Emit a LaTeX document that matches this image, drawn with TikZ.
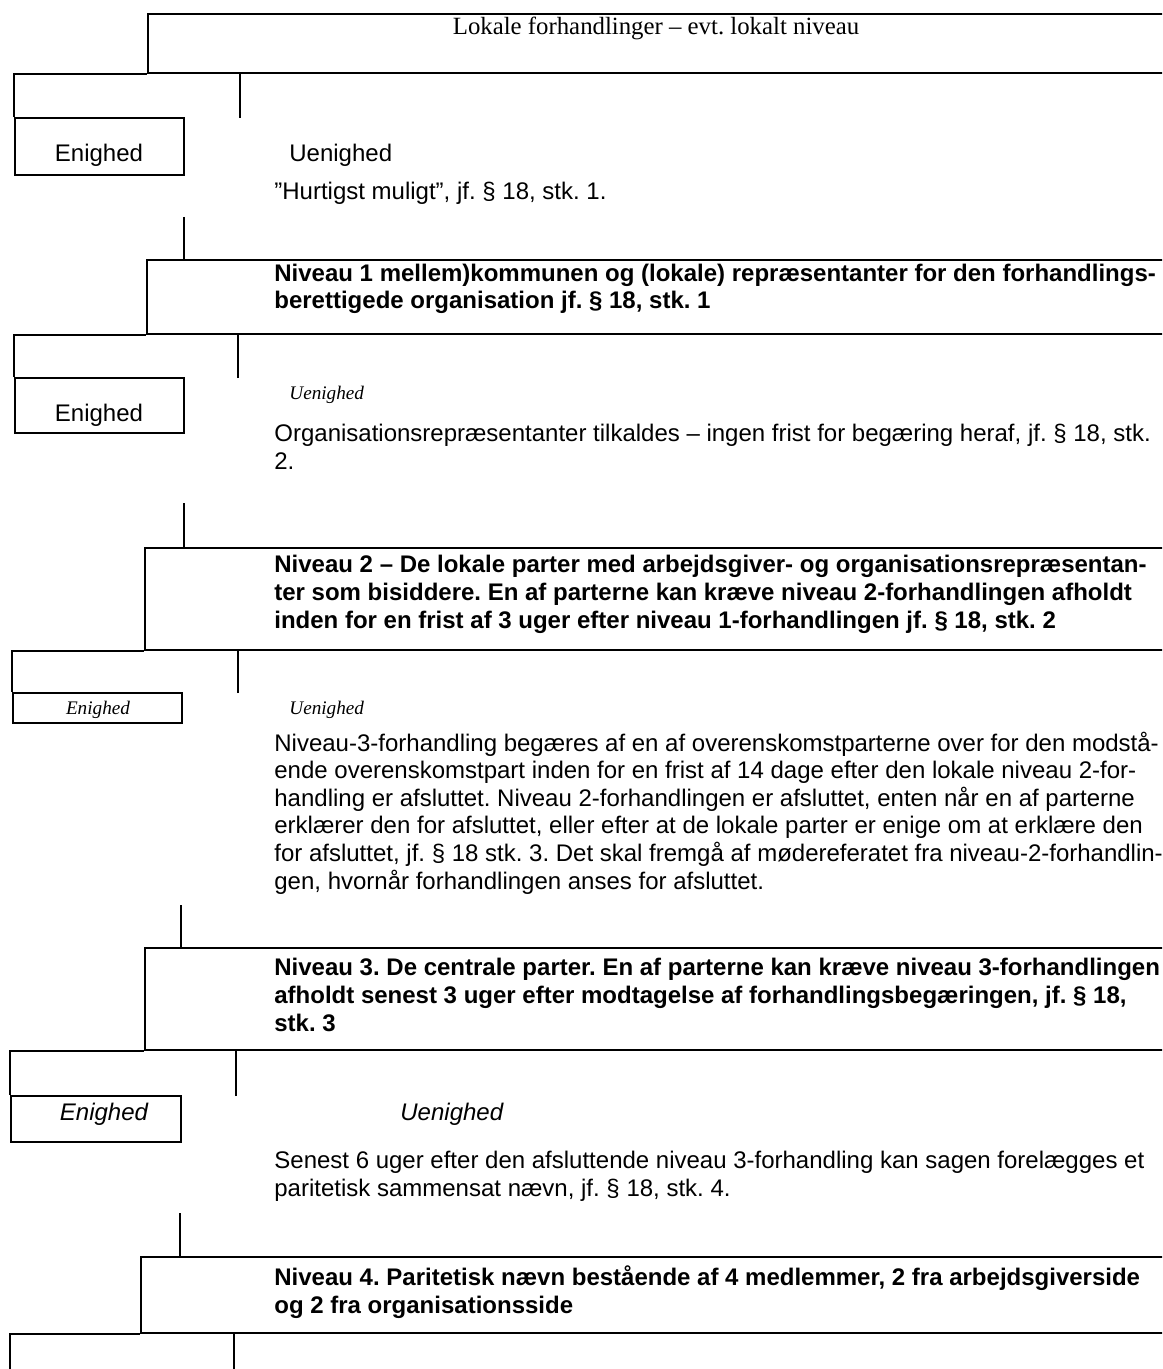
\documentclass[tikz,border=0pt]{standalone}
\usepackage{fontspec}
\setmainfont{Liberation Serif}
\setsansfont{Liberation Sans}
\usetikzlibrary{fit}
\tikzstyle{box} = [draw, line width=0.9pt, inner sep=0pt]
\tikzstyle{link} = [draw, line width=0.9pt]
\tikzstyle{txt} = [inner sep=0pt, anchor=base west, align=left, font=\sffamily\fontsize{12}{13.8}\selectfont]
\tikzstyle{head} = [txt, font=\sffamily\bfseries\fontsize{12}{13.8}\selectfont]
\tikzstyle{ital} = [txt, font=\rmfamily\itshape\fontsize{9.6}{12}\selectfont]

\begin{document}
\frenchspacing
\begin{tikzpicture}[x=0.5pt, y=-0.5pt]
  \useasboundingbox (0,0) rectangle (1162,1369);
  \clip (0,0) rectangle (1162,1369);

  % Lokalt niveau
  \node[box, fit={(148,14) (1200,73)}] (L0) {};
  \node[txt, anchor=base, font=\rmfamily\fontsize{12.4}{14}\selectfont] (L0t) at (656,35) {Lokale forhandlinger – evt. lokalt niveau};
  \node[box, fit={(15,118) (184,175)}] (E1) {};
  \node[txt, anchor=base] (E1t) at (99,162) {Enighed};
  \node[txt] (U1) at (289,162) {Uenighed};
  \node[txt] (F1) at (274,200) {”Hurtigst muligt”, jf. § 18, stk. 1.};
  \coordinate (a1) at (240,118);
  \coordinate (b1) at (184,217);

  % Niveau 1
  \node[box, fit={(147,260) (1200,334)}] (N1) {};
  \node[head] (N1t) at (274,309) {Niveau 1 mellem)kommunen og (lokale) repræsentanter for den forhandlings-\\berettigede organisation jf. § 18, stk. 1};
  \node[box, fit={(15,378) (184,433)}] (E2) {};
  \node[txt, anchor=base] (E2t) at (99,421) {Enighed};
  \node[ital] (U2) at (289,400) {Uenighed};
  \node[txt] (F2) at (274,469) {Organisationsrepræsentanter tilkaldes – ingen frist for begæring heraf, jf. § 18, stk.\\2.};
  \coordinate (a2) at (238,378);
  \coordinate (b2) at (184,503);

  % Niveau 2
  \node[box, fit={(145,548) (1200,650)}] (N2) {};
  \node[head] (N2t) at (274,628) {Niveau 2 – De lokale parter med arbejdsgiver- og organisationsrepræsentan-\\ter som bisiddere. En af parterne kan kræve niveau 2-forhandlingen afholdt\\inden for en frist af 3 uger efter niveau 1-forhandlingen jf. § 18, stk. 2};
  \node[box, fit={(13,693) (182,723)}] (E3) {};
  \node[ital, anchor=base] (E3t) at (98,714) {Enighed};
  \node[ital] (U3) at (289,714) {Uenighed};
  \node[txt] (F3) at (274,889) {Niveau-3-forhandling begæres af en af overenskomstparterne over for den modstå-\\ende overenskomstpart inden for en frist af 14 dage efter den lokale niveau 2-for-\\handling er afsluttet. Niveau 2-forhandlingen er afsluttet, enten når en af parterne\\erklærer den for afsluttet, eller efter at de lokale parter er enige om at erklære den\\for afsluttet, jf. § 18 stk. 3. Det skal fremgå af mødereferatet fra niveau-2-forhandlin-\\gen, hvornår forhandlingen anses for afsluttet.};
  \coordinate (a3) at (238,693);
  \coordinate (b3) at (181,905);

  % Niveau 3
  \node[box, fit={(145,948) (1200,1050)}] (N3) {};
  \node[head] (N3t) at (274,1031) {Niveau 3. De centrale parter. En af parterne kan kræve niveau 3-forhandlingen\\afholdt senest 3 uger efter modtagelse af forhandlingsbegæringen, jf. § 18,\\stk. 3};
  \node[box, fit={(11,1096) (181,1142)}] (E4) {};
  \node[txt, anchor=base, font=\sffamily\itshape\fontsize{12}{13.8}\selectfont] (E4t) at (104,1120) {Enighed};
  \node[txt, font=\sffamily\itshape\fontsize{12}{13.8}\selectfont] (U4) at (400,1120) {Uenighed};
  \node[txt] (F4) at (274,1196) {Senest 6 uger efter den afsluttende niveau 3-forhandling kan sagen forelægges et\\paritetisk sammensat nævn, jf. § 18, stk. 4.};
  \coordinate (a4) at (236,1096);
  \coordinate (b4) at (180,1213);

  % Niveau 4
  \node[box, fit={(141,1257) (1200,1333)}] (N4) {};
  \node[head] (N4t) at (274,1313) {Niveau 4. Paritetisk nævn bestående af 4 medlemmer, 2 fra arbejdsgiverside\\og 2 fra organisationsside};
  \node[box, fit={(11,1400) (180,1450)}] (E5) {};
  \coordinate (a5) at (234,1400);

  % forbindelser
  \draw[link] (E1.north west) |- (L0.south west);
  \draw[link] (a1) -- (a1 |- L0.south);
  \draw[link] (b1) -- (b1 |- N1.north);
  \draw[link] (E2.north west) |- (N1.south west);
  \draw[link] (a2) -- (a2 |- N1.south);
  \draw[link] (b2) -- (b2 |- N2.north);
  \draw[link] (E3.north west) |- (N2.south west);
  \draw[link] (a3) -- (a3 |- N2.south);
  \draw[link] (b3) -- (b3 |- N3.north);
  \draw[link] (E4.north west) |- (N3.south west);
  \draw[link] (a4) -- (a4 |- N3.south);
  \draw[link] (b4) -- (b4 |- N4.north);
  \draw[link] (E5.north west) |- (N4.south west);
  \draw[link] (a5) -- (a5 |- N4.south);
\end{tikzpicture}
\end{document}
